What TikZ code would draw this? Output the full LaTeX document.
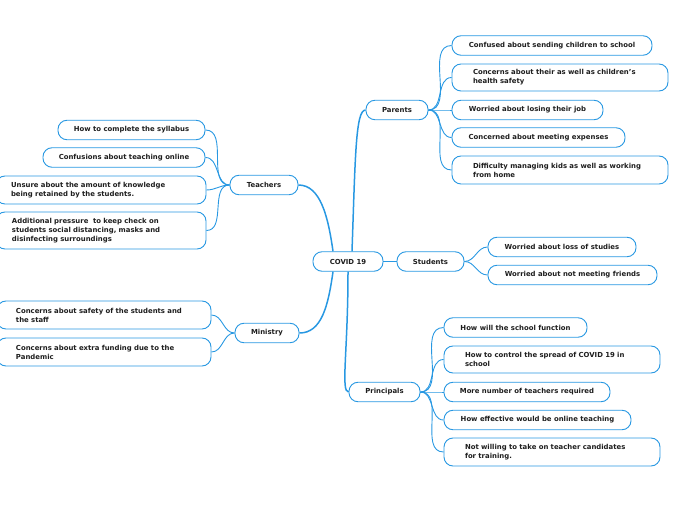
\documentclass[tikz,border=0pt]{standalone}
\usepackage{fontspec}
\setmainfont{DejaVu Sans}
\usetikzlibrary{positioning}
\definecolor{mapblue}{RGB}{40,152,226}
\definecolor{inkgray}{RGB}{30,30,30}

\begin{document}
\begin{tikzpicture}[x=1pt, y=1pt,
  box/.style={draw=mapblue, fill=white, line width=0.9pt, rounded corners=9pt, minimum height=19.5pt, inner xsep=2pt, align=center, text=inkgray, font=\fontsize{6.9}{8.9}\selectfont\bfseries},
  topic/.style={box, minimum width=#1},
  leaf/.style={box, minimum width=#1},
  multi/.style={box, align=left, text width=#1},
  branch/.style={draw=mapblue, line width=1.5pt},
  twig/.style={draw=mapblue, line width=0.9pt}
]
\useasboundingbox (0,0) rectangle (696,520);

% central topic and main branches
\node[topic=70pt] (covid) at (348,258.5) {COVID 19};
\node[topic=62pt] (parents) at (397,410) {Parents};
\node[topic=67pt] (students) at (430.5,258.5) {Students};
\node[topic=71pt] (principals) at (384.5,128) {Principals};
\node[topic=68pt] (teachers) at (264,335) {Teachers};
\node[topic=64pt] (ministry) at (267,187) {Ministry};

% parents
\node[leaf=200pt] (par1) at (552,474.5) {Confused about sending children to school};
\node[multi=174pt, minimum width=216pt, minimum height=27pt] (par2) at (560,442.5) {Concerns about their as well as children's\\health safety};
\node[leaf=151pt] (par3) at (527.5,410) {Worried about losing their job};
\node[leaf=173pt] (par4) at (538.5,382.5) {Concerned about meeting expenses};
\node[multi=174pt, minimum width=216pt, minimum height=28pt] (par5) at (560,350) {Difficulty managing kids as well as working\\from home};

% students
\node[leaf=148pt] (stu1) at (562,273) {Worried about loss of studies};
\node[leaf=169pt] (stu2) at (572.5,245) {Worried about not meeting friends};

% principals
\node[leaf=143pt] (pri1) at (515.5,192.5) {How will the school function};
\node[multi=174pt, minimum width=216pt, minimum height=27pt] (pri2) at (552,160.5) {How to control the spread of COVID 19 in\\school};
\node[leaf=166pt] (pri3) at (527,128) {More number of teachers required};
\node[leaf=187pt] (pri4) at (537.5,100) {How effective would be online teaching};
\node[multi=174pt, minimum width=216pt, minimum height=28pt] (pri5) at (552,68) {Not willing to take on teacher candidates\\for training.};

% teachers
\node[leaf=147pt] (tea1) at (131.5,390) {How to complete the syllabus};
\node[leaf=162pt] (tea2) at (124,362.5) {Confusions about teaching online};
\node[multi=180pt, minimum width=210pt, minimum height=28pt] (tea3) at (101,330) {Unsure about the amount of knowledge\\being retained by the students.};
\node[multi=178pt, minimum width=210pt, minimum height=37pt] (tea4) at (101,289.5) {Additional pressure\ \ to keep check on\\students social distancing, masks and\\disinfecting surroundings};

% ministry
\node[multi=176pt, minimum width=214pt, minimum height=28pt] (min1) at (104,205) {Concerns about safety of the students and\\the staff};
\node[multi=176pt, minimum width=214pt, minimum height=28pt] (min2) at (104,168) {Concerns about extra funding due to the\\Pandemic};

% branches from the centre
\draw[branch] ([xshift=4pt]covid.north) to[out=88, in=180, out distance=95pt, in distance=10pt] (parents.west);
\draw[branch] (covid.south) to[out=-90, in=180, out distance=80pt, in distance=8pt] (principals.west);
\draw[branch] ([xshift=-15pt]covid.north) to[out=98, in=0, out distance=35pt, in distance=22pt] (teachers.east);
\draw[branch] ([xshift=-15pt]covid.south) to[out=-98, in=0, out distance=35pt, in distance=22pt] (ministry.east);
\draw[twig] (covid.east) -- (students.west);

% twigs
\draw[twig] (parents.east) to[out=0, in=180] (par1.west);
\draw[twig] (parents.east) to[out=0, in=180] (par2.west);
\draw[twig] (parents.east) to[out=0, in=180] (par3.west);
\draw[twig] (parents.east) to[out=0, in=180] (par4.west);
\draw[twig] (parents.east) to[out=0, in=180] (par5.west);
\draw[twig] (students.east) to[out=0, in=180] (stu1.west);
\draw[twig] (students.east) to[out=0, in=180] (stu2.west);
\draw[twig] (principals.east) to[out=0, in=180] (pri1.west);
\draw[twig] (principals.east) to[out=0, in=180] (pri2.west);
\draw[twig] (principals.east) to[out=0, in=180] (pri3.west);
\draw[twig] (principals.east) to[out=0, in=180] (pri4.west);
\draw[twig] (principals.east) to[out=0, in=180] (pri5.west);
\draw[twig] (teachers.west) to[out=180, in=0] (tea1.east);
\draw[twig] (teachers.west) to[out=180, in=0] (tea2.east);
\draw[twig] (teachers.west) to[out=180, in=0] (tea3.east);
\draw[twig] (teachers.west) to[out=180, in=0] (tea4.east);
\draw[twig] (ministry.west) to[out=180, in=0] (min1.east);
\draw[twig] (ministry.west) to[out=180, in=0] (min2.east);
\end{tikzpicture}
\end{document}
